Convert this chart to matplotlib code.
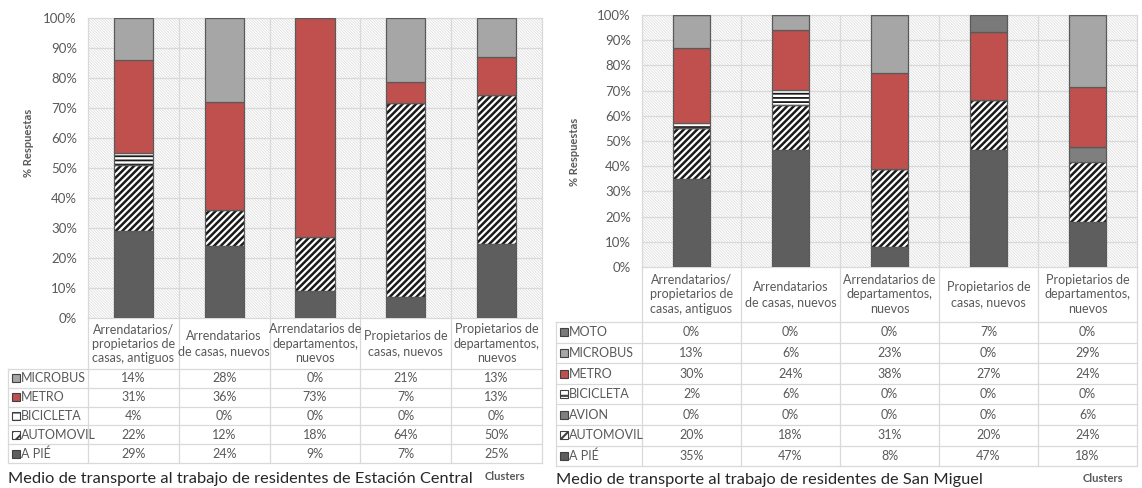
import matplotlib
matplotlib.use('Agg')
import matplotlib.pyplot as plt
import numpy as np
from matplotlib.transforms import Affine2D
from matplotlib.patches import Rectangle
from matplotlib.lines import Line2D

plt.rcParams['font.family'] = ['Lato', 'DejaVu Sans']

# Clusters (same for both communes)
categories = ['Arrendatarios/\npropietarios de\ncasas, antiguos',
              'Arrendatarios\nde casas, nuevos',
              'Arrendatarios de\ndepartamentos,\nnuevos',
              'Propietarios de\ncasas, nuevos',
              'Propietarios de\ndepartamentos,\nnuevos']

# Estación Central (%)
ec_a_pie = [29, 24, 9, 7, 25]
ec_automovil = [22, 12, 18, 64, 50]
ec_bicicleta = [4, 0, 0, 0, 0]
ec_metro = [31, 36, 73, 7, 13]
ec_microbus = [14, 28, 0, 21, 13]

# San Miguel (%)
sm_a_pie = [35, 47, 8, 47, 18]
sm_automovil = [20, 18, 31, 20, 24]
sm_avion = [0, 0, 0, 0, 6]
sm_bicicleta = [2, 6, 0, 0, 0]
sm_metro = [30, 24, 38, 27, 24]
sm_microbus = [13, 6, 23, 0, 29]
sm_moto = [0, 0, 0, 7, 0]

# look of each transport mode: (face colour, hatch)
styles = {
    'A PIÉ': ('#5e5e5e', None),
    'AUTOMOVIL': ('white', '/////'),
    'AVION': ('#7f7f7f', None),
    'BICICLETA': ('white', '----'),
    'METRO': ('#c0504d', None),
    'MICROBUS': ('#a6a6a6', None),
    'MOTO': ('#7a7a7a', None),
}

W, H = 1142, 488
fig = plt.figure(figsize=(W / 100, H / 100), dpi=100)
# pixel coordinates, origin top-left
px = Affine2D().scale(1 / W, -1 / H).translate(0, 1) + fig.transFigure

TXT = '#595959'
GRID = '#d9d9d9'


def hline(x0, x1, y):
    fig.add_artist(Line2D([x0, x1], [y, y], transform=px, color=GRID, lw=0.9))


def vline(x, y0, y1):
    fig.add_artist(Line2D([x, x], [y0, y1], transform=px, color=GRID, lw=0.9))


def hatched(p, hatch, lw):
    p.set_hatch(hatch)
    if hasattr(p, 'set_hatch_linewidth'):
        p.set_hatch_linewidth(lw)


def chart(left, right, top, bottom, barw, series, ylab_x, ylab_y,
          head_bot, row_h, leg_x0, title, title_y, clusters_x):
    ax = fig.add_axes([left / W, 1 - bottom / H, (right - left) / W, (bottom - top) / H])
    n = len(categories)
    x = np.arange(n)
    ax.set_xlim(-0.5, n - 0.5)
    ax.set_ylim(0, 100)

    # hatched plot area background
    bg = Rectangle((0, 0), 1, 1, transform=ax.transAxes, facecolor='white',
                   edgecolor='#d9d9d9', lw=0, zorder=0)
    hatched(bg, '\\' * 12, 0.5)
    ax.add_patch(bg)

    for v in np.arange(10, 100, 10):
        ax.axhline(v, color=GRID, lw=0.9, zorder=1)
    for k in range(1, n):
        ax.axvline(k - 0.5, color=GRID, lw=0.9, zorder=1)
    for s in ax.spines.values():
        s.set_color(GRID)
        s.set_linewidth(0.9)

    totals = np.sum([vals for _, vals in series], axis=0)
    bottom_acc = np.zeros(n)
    for name, vals in series:
        h = np.array(vals) / totals * 100
        face, hatch = styles[name]
        if hatch:
            bars = ax.bar(x, h, barw, bottom=bottom_acc, color='white',
                          edgecolor='#1a1a1a', lw=0, zorder=2)
            for b in bars:
                hatched(b, hatch, 1.8 if hatch.startswith('/') else 1.3)
            ax.bar(x, h, barw, bottom=bottom_acc, fill=False,
                   edgecolor='#5a5a5a', lw=0.9, zorder=3)
        else:
            ax.bar(x, h, barw, bottom=bottom_acc, color=face,
                   edgecolor='#5a5a5a', lw=0.9, zorder=3)
        bottom_acc += h

    ax.set_yticks(np.arange(0, 101, 10))
    ax.set_yticklabels([f'{v}%' for v in range(0, 101, 10)])
    ax.set_xticks([])
    ax.tick_params(axis='y', length=0, pad=8, labelsize=9.5, labelcolor=TXT)

    fig.text(ylab_x, ylab_y, '% Respuestas', transform=px, rotation=90,
             ha='center', va='center', fontsize=8, fontweight='bold', color=TXT)

    # data table under the plot area
    colw = (right - left) / n
    nrows = len(series)
    table_bot = head_bot + nrows * row_h
    for k in range(n + 1):
        vline(left + k * colw, bottom, table_bot)
    vline(leg_x0, head_bot, table_bot)
    for r in range(nrows + 1):
        hline(leg_x0, right, head_bot + r * row_h)
    for k, cat in enumerate(categories):
        fig.text(left + (k + 0.5) * colw, (bottom + head_bot) / 2, cat,
                 transform=px, ha='center', va='center', fontsize=9,
                 color=TXT, linespacing=1.25)
    for r, (name, vals) in enumerate(reversed(series)):
        yc = head_bot + (r + 0.5) * row_h
        face, hatch = styles[name]
        sq = Rectangle((leg_x0 + 4, yc - 4), 8, 8, transform=px, facecolor=face,
                       edgecolor='#404040', lw=0.8)
        if hatch:
            hatched(sq, '///' if hatch.startswith('/') else '--', 1.5)
        fig.add_artist(sq)
        fig.text(leg_x0 + 13, yc, name, transform=px, ha='left', va='center',
                 fontsize=9, color=TXT)
        for k, v in enumerate(vals):
            fig.text(left + (k + 0.5) * colw, yc, f'{v}%', transform=px,
                     ha='center', va='center', fontsize=9, color=TXT)

    fig.text(leg_x0, title_y, title, transform=px, ha='left', va='center',
             fontsize=11.8, color='#262626')
    fig.text(clusters_x, title_y - 2, 'Clusters', transform=px, ha='left',
             va='center', fontsize=8, fontweight='bold', color=TXT)
    return ax


ec_series = [('A PIÉ', ec_a_pie), ('AUTOMOVIL', ec_automovil),
             ('BICICLETA', ec_bicicleta), ('METRO', ec_metro),
             ('MICROBUS', ec_microbus)]
sm_series = [('A PIÉ', sm_a_pie), ('AUTOMOVIL', sm_automovil),
             ('AVION', sm_avion), ('BICICLETA', sm_bicicleta),
             ('METRO', sm_metro), ('MICROBUS', sm_microbus),
             ('MOTO', sm_moto)]

chart(88, 542, 18, 318, 0.43, ec_series, 28, 143, 369, 18.8, 8,
      'Medio de transporte al trabajo de residentes de Estación Central', 479, 485)
chart(642, 1137, 15, 267, 0.375, sm_series, 575, 152, 322, 20.6, 556,
      'Medio de transporte al trabajo de residentes de San Miguel', 480, 1083)

fig.savefig('out.png', dpi=100, facecolor='white')
